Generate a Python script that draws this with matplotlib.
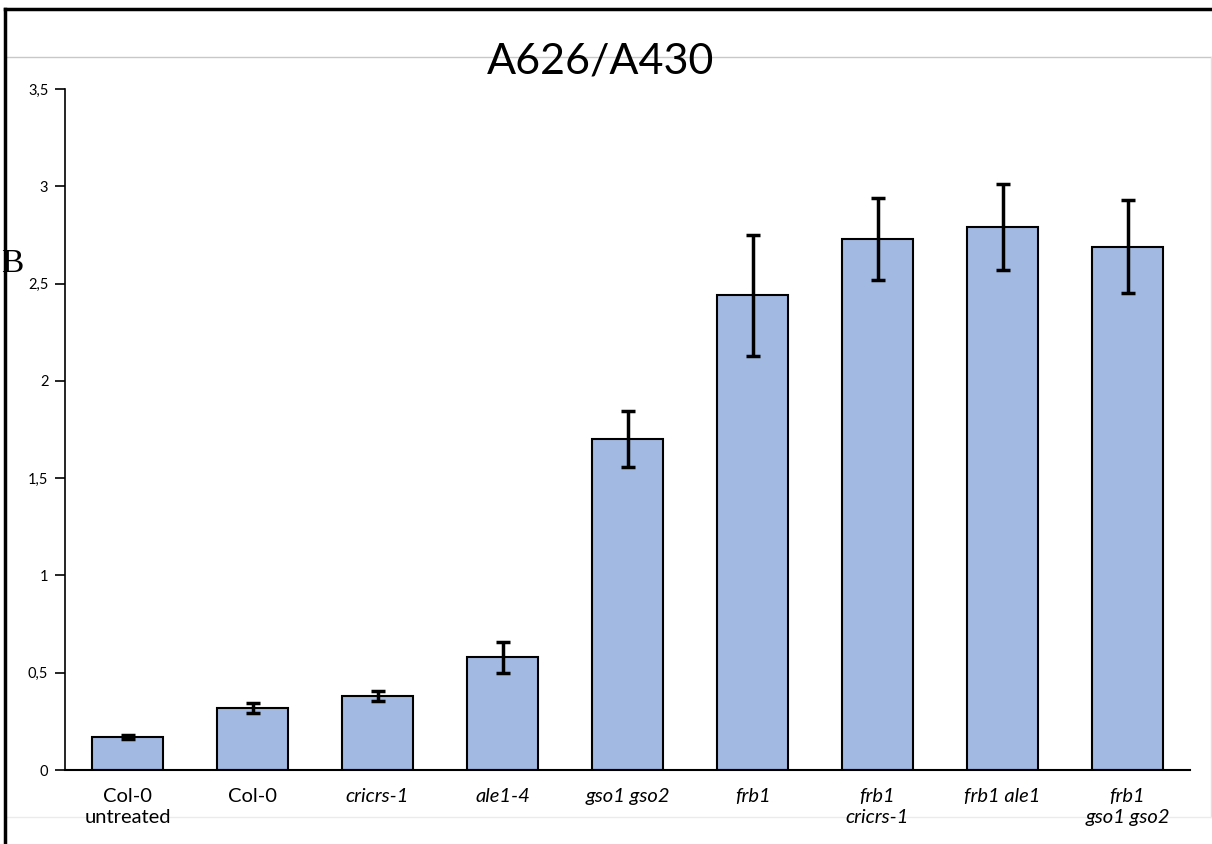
import matplotlib.pyplot as plt
from matplotlib.lines import Line2D

categories = ["Col-0\nuntreated", "Col-0", "cricrs-1", "ale1-4", "gso1 gso2",
              "frb1", "frb1\ncricrs-1", "frb1 ale1", "frb1\ngso1 gso2"]
italic = [False, False, True, True, True, True, True, True, True]
values = [0.17, 0.32, 0.38, 0.58, 1.70, 2.44, 2.73, 2.79, 2.69]
errors = [0.01, 0.025, 0.025, 0.08, 0.145, 0.31, 0.21, 0.22, 0.24]
yticks = [0, 0.5, 1, 1.5, 2, 2.5, 3, 3.5]
ytick_labels = ["0", "0,5", "1", "1,5", "2", "2,5", "3", "3,5"]

plt.rcParams['font.family'] = ['Lato', 'DejaVu Sans']

W, H = 1212, 844
fig = plt.figure(figsize=(W / 100, H / 100), dpi=100)
ax = fig.add_axes([65 / W, 1 - 770 / H, (1190 - 65) / W, (770 - 89) / H])
ax.patch.set_visible(False)

x = range(len(values))
ax.bar(x, values, width=0.575, color='#A2BAE2', edgecolor='black', linewidth=1.5,
       yerr=errors, error_kw=dict(ecolor='black', elinewidth=2.5, capsize=5, capthick=2.5))

ax.set_xlim(-0.5, len(values) - 0.5)
ax.set_ylim(0, 3.5)
ax.set_yticks(yticks)
ax.set_yticklabels(ytick_labels, fontsize=10.5)
ax.set_xticks(list(x))
ax.set_xticklabels(categories, fontsize=14.5, linespacing=1.3)
for lbl, it in zip(ax.get_xticklabels(), italic):
    if it:
        lbl.set_style('italic')
ax.tick_params(axis='x', length=0, pad=13)
ax.tick_params(axis='y', length=7, width=1.2, pad=5)
for s in ['top', 'right']:
    ax.spines[s].set_visible(False)
ax.spines['left'].set_linewidth(1.2)
ax.spines['bottom'].set_linewidth(1.5)

# title and panel letter
fig.text(601 / W, 1 - 62 / H, "A626/A430", ha='center', va='center', fontsize=31)
fig.text(1 / W, 1 - 264 / H, "B", ha='left', va='center', fontsize=24,
         family='Liberation Serif')

# gray chart-area frame, behind everything
gray = '#c8c8c8'
fig.add_artist(Line2D([5 / W, 1211 / W], [1 - 57 / H, 1 - 57 / H], color=gray, lw=1, zorder=-5))
fig.add_artist(Line2D([1211 / W, 1211 / W], [1 - 57 / H, 1 - 817 / H], color='#e0e0e0', lw=1, zorder=-5))
fig.add_artist(Line2D([5 / W, 1211 / W], [1 - 817 / H, 1 - 817 / H], color='#ebebeb', lw=1, zorder=-5))

# black outer border (left and top)
fig.add_artist(Line2D([5 / W, 5 / W], [0, 1 - 9 / H], color='black', lw=2.5))
fig.add_artist(Line2D([5 / W, 1], [1 - 9 / H, 1 - 9 / H], color='black', lw=2.5))

fig.savefig("out.png", dpi=100)
